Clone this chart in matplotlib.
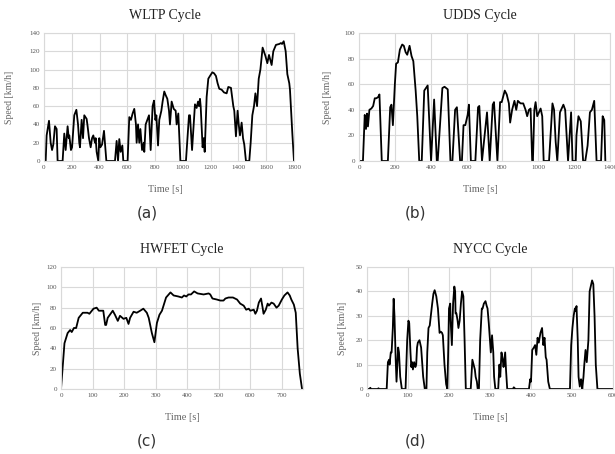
import matplotlib
matplotlib.use("Agg")
import matplotlib.pyplot as plt

# WLTP cycle (time [s], speed [km/h])
wltp_t = [0, 12, 19, 36, 48, 58, 67, 79, 91, 98, 134, 146, 156, 170, 178, 182, 194, 202, 218, 233,
          245, 254, 259, 271, 281, 290, 307, 314, 324, 336, 346, 355, 367, 372, 379, 391, 398, 406,
          418, 432, 449, 511, 523, 533, 542, 552, 564, 571, 602, 614, 626, 638, 650, 662, 667, 677,
          686, 694, 706, 718, 722, 732, 744, 756, 768, 782, 792, 802, 809, 821, 830, 845, 854, 866,
          876, 888, 900, 907, 919, 934, 948, 955, 967, 982, 1022, 1044, 1051, 1066, 1078, 1087, 1099,
          1109, 1116, 1123, 1128, 1142, 1150, 1157, 1171, 1183, 1195, 1212, 1224, 1238, 1250, 1262,
          1279, 1296, 1315, 1327, 1346, 1363, 1370, 1382, 1394, 1402, 1411, 1423, 1433, 1442, 1454,
          1478, 1488, 1500, 1512, 1522, 1534, 1546, 1558, 1574, 1594, 1608, 1620, 1639, 1651, 1670,
          1694, 1706, 1714, 1726, 1740, 1752, 1766, 1771, 1788, 1800]
wltp_v = [0, 0, 28, 44, 20, 12, 18, 38, 35, 0, 0, 30, 12, 38, 25, 28, 12, 15, 50, 56,
          40, 20, 15, 45, 25, 50, 46, 38, 25, 15, 25, 28, 20, 25, 10, 0, 25, 15,
          18, 33, 0, 0, 22, 0, 24, 10, 17, 0, 0, 48, 45, 52, 57, 40, 20, 40,
          20, 35, 12, 20, 10, 40, 45, 50, 12, 60, 66, 45, 50, 17, 45, 55, 65, 76,
          72, 68, 55, 40, 65, 57, 55, 40, 52, 0, 0, 50, 50, 12, 40, 62, 58,
          65, 60, 68, 60, 15, 25, 10, 70, 90, 93, 97, 96, 93, 85, 79,
          78, 75, 74, 81, 80, 60, 55, 27, 55, 40, 28, 42, 25, 18, 0,
          0, 20, 50, 60, 74, 60, 90, 100, 124, 115, 107, 116, 105, 120, 127,
          128, 129, 128, 131, 120, 95, 85, 78, 30, 0]

# UDDS cycle
udds_t = [0, 22, 32, 39, 45, 50, 58, 69, 79, 88, 97, 107, 114, 127, 161, 174, 181, 189, 200, 207,
          217, 228, 241, 250, 260, 269, 282, 293, 303, 316, 325, 336, 350, 364, 383, 402, 419, 434,
          439, 465, 477, 495, 510, 521, 536, 546, 564, 574, 583, 593, 606, 613, 624, 649, 664, 671,
          686, 705, 714, 729, 746, 753, 772, 787, 796, 813, 824, 836, 843, 854, 867, 877, 886, 901,
          916, 929, 938, 948, 957, 966, 970, 978, 985, 994, 1013, 1022, 1030, 1060, 1079, 1088, 1097,
          1106, 1121, 1140, 1150, 1166, 1183, 1191, 1209, 1213, 1224, 1237, 1250, 1262, 1275, 1288,
          1299, 1312, 1325, 1350, 1359, 1368, 1374]
udds_v = [0, 0, 36, 25, 37, 27, 40, 41, 43, 49, 49, 50, 52, 0, 0, 42, 44, 28, 60, 76,
          77, 87, 91, 90, 85, 83, 90, 82, 78, 55, 35, 0, 0, 55, 59, 0, 48, 0,
          0, 57, 58, 56, 0, 0, 40, 42, 0, 0, 28, 28, 36, 44, 0, 0, 42, 43,
          0, 26, 38, 0, 44, 46, 0, 46, 46, 55, 52, 45, 30, 40, 47, 40, 47, 45,
          45, 40, 35, 40, 41, 0, 0, 40, 46, 35, 41, 35, 0, 0, 45, 40, 15,
          0, 38, 44, 40, 0, 38, 0, 0, 20, 35, 31, 0, 0, 12, 38,
          40, 47, 0, 0, 35, 32, 0]

# HWFET cycle
hwfet_t = [0, 11, 21, 29, 34, 41, 48, 56, 69, 84, 90, 103, 113, 120, 134, 140, 143, 148, 164, 171,
           180, 187, 198, 207, 214, 219, 230, 240, 251, 261, 272, 278, 288, 296, 304, 312, 320, 333,
           347, 357, 372, 383, 390, 397, 404, 412, 422, 433, 452, 468, 473, 480, 494, 505, 515, 521,
           531, 545, 558, 568, 579, 587, 595, 600, 611, 616, 621, 627, 634, 639, 642, 649, 655, 659,
           667, 674, 683, 690, 700, 708, 718, 725, 730, 738, 744, 750, 757, 764]
hwfet_v = [0, 45, 55, 58, 56, 60, 60, 70, 75, 75, 74, 79, 80, 77, 77, 63, 63, 70, 77, 73,
           67, 72, 69, 70, 64, 70, 76, 75, 77, 79, 75, 70, 55, 46, 65, 73, 77, 90,
           95, 92, 91, 90, 92, 91, 93, 93, 96, 94, 93, 94, 93, 89, 88, 87, 87, 89,
           90, 90, 88, 84, 82, 78, 79, 77, 78, 74, 77, 85, 89, 80, 74, 78, 84, 82,
           85, 84, 80, 82, 88, 92, 95, 92, 88, 83, 75, 40, 15, 0]

# NYCC cycle
nycc_t = [0, 6, 8, 10, 26, 28, 30, 48, 51, 54, 55, 58, 60, 63, 65, 67, 70, 72, 74, 76,
          78, 81, 85, 94, 98, 101, 103, 106, 108, 110, 112, 115, 118, 120, 122, 124, 128, 132,
          134, 137, 141, 145, 147, 150, 153, 155, 159, 162, 165, 169, 173, 177, 180, 183, 185,
          189, 193, 196, 198, 200, 203, 204, 207, 210, 213, 215, 216, 218, 221, 223, 226, 229,
          232, 235, 238, 241, 253, 257, 260, 263, 265, 268, 270, 273, 276, 280, 282, 285, 289,
          292, 294, 297, 300, 302, 305, 308, 310, 313, 320, 323, 325, 328, 331, 333, 337, 339,
          342, 356, 358, 362, 395, 398, 400, 403, 407, 410, 413, 416, 419, 423, 427, 430, 433,
          436, 438, 442, 446, 495, 498, 501, 504, 507, 509, 511, 514, 516, 519, 522, 524, 525,
          528, 530, 533, 536, 540, 543, 549, 552, 555, 558, 562, 598]
nycc_v = [0, 0, 0.5, 0, 0, 0.3, 0, 0, 11, 12, 10, 15, 15, 25, 37, 30, 12, 3, 10, 17,
          15, 5, 0, 0, 20, 28, 27, 15, 9, 11, 8, 11, 9, 10, 17, 19, 20, 17,
          12, 5, 0, 0, 15, 25, 26, 29, 35, 39, 40.5, 38, 33, 23, 23.5, 23, 22,
          10, 2, 0, 15, 33, 35, 28, 18, 35, 42, 40, 31, 31, 28, 25, 28, 35,
          40, 38, 20, 0, 0, 12, 10, 8, 5, 3, 0, 0, 20, 33, 33, 35, 36,
          34, 33, 27, 20, 15, 22, 15, 5, 0, 0, 10, 5, 15, 12, 9, 15, 8,
          0, 0, 0.7, 0, 0, 4, 3, 16, 17, 18, 14, 21, 19, 23, 25, 18, 21,
          13, 12, 3, 0, 0, 18, 25, 30, 33, 32, 34, 20, 5, 1, 4, 3, 0,
          5, 10, 16, 11, 20, 40, 44.5, 43, 30, 10, 0, 0]

panels = [
    ("WLTP Cycle", wltp_t, wltp_v, (0, 1800), range(0, 1801, 200), (0, 140), range(0, 141, 20),
     (44, 294, 33, 161), 10, 165, "(a)"),
    ("UDDS Cycle", udds_t, udds_v, (0, 1400), range(0, 1401, 200), (0, 100), range(0, 101, 20),
     (359, 610, 33, 161), 328, 480, "(b)"),
    ("HWFET Cycle", hwfet_t, hwfet_v, (0, 767), range(0, 701, 100), (0, 120), range(0, 121, 20),
     (61, 303, 267, 389), 37, 182, "(c)"),
    ("NYCC Cycle", nycc_t, nycc_v, (0, 600), range(0, 601, 100), (0, 50), range(0, 51, 10),
     (367, 613, 267, 389), 342, 490, "(d)"),
]

W, H = 615, 454
fig = plt.figure(figsize=(W / 100, H / 100), dpi=100)
serif = "Liberation Serif"
grid_c = "#d9d9d9"

for title, t, v, xlim, xt, ylim, yt, (l, r, top, bot), ylab_x, cx, tag in panels:
    ax = fig.add_axes([l / W, 1 - bot / H, (r - l) / W, (bot - top) / H])
    ax.plot(t, v, color="black", lw=1.3)
    ax.set_xlim(*xlim)
    ax.set_ylim(*ylim)
    ax.set_xticks(list(xt))
    ax.set_yticks(list(yt))
    ax.grid(True, color=grid_c, lw=0.8)
    ax.set_axisbelow(True)
    for s in ax.spines.values():
        s.set_color(grid_c)
        s.set_linewidth(0.8)
    ax.tick_params(length=0, pad=3, labelsize=5, labelcolor="#555555")
    for lab in ax.get_xticklabels() + ax.get_yticklabels():
        lab.set_family(serif)
    # titles and labels placed in figure pixels
    fig.text(cx / W, 1 - (top - 17) / H, title, ha="center", va="center",
             family=serif, fontsize=10, color="#222222")
    fig.text(cx / W, 1 - (bot + 29) / H, "Time [s]", ha="center", va="center",
             family=serif, fontsize=7.5, color="#666666")
    fig.text(ylab_x / W, 1 - ((top + bot) / 2) / H, "Speed [km/h]", ha="center", va="center",
             rotation=90, family=serif, fontsize=7, color="#666666")
    fig.text((147 if tag in ("(a)", "(c)") else 416) / W, 1 - (bot + 52) / H, tag,
             ha="center", va="center", family="DejaVu Sans", fontsize=11, color="#333333")

fig.savefig("out.png", dpi=100)
